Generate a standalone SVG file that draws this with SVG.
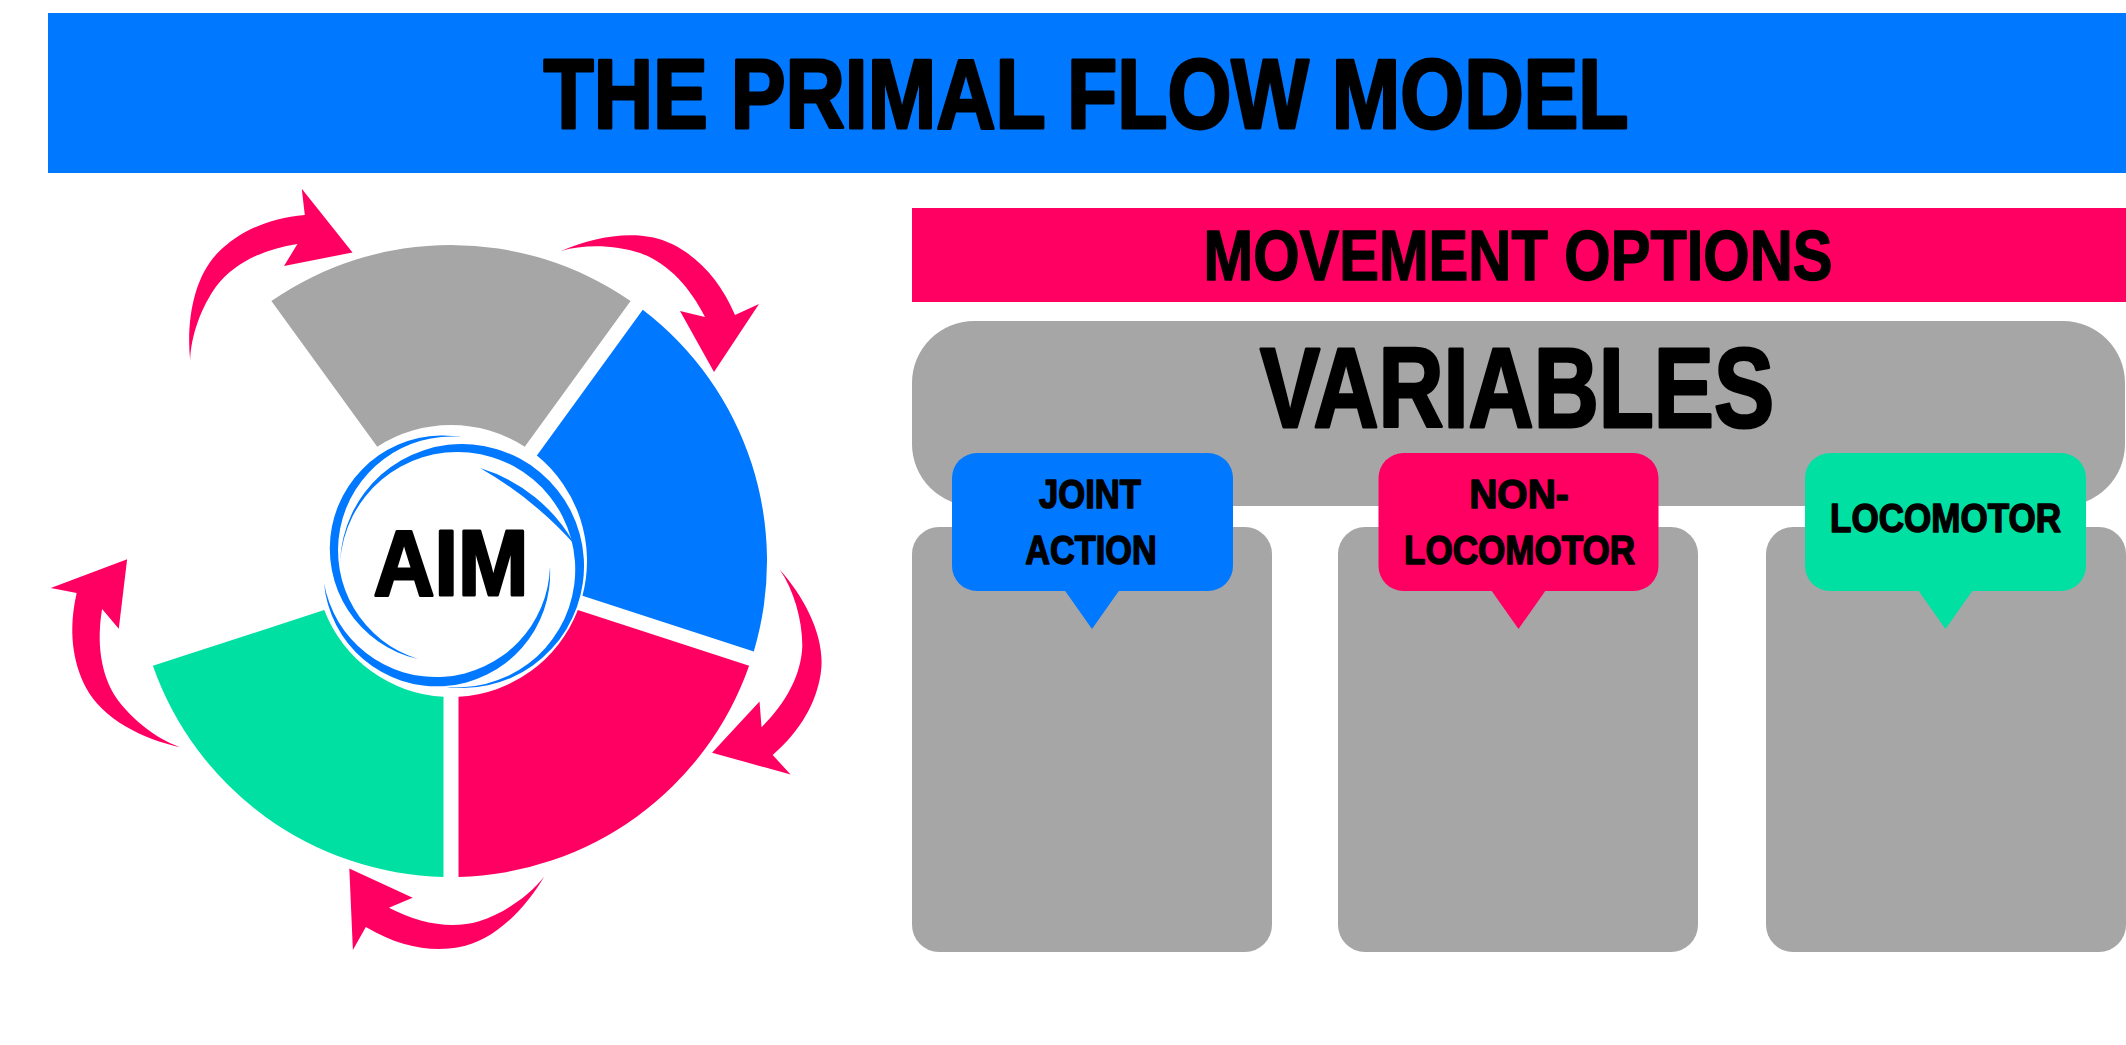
<svg xmlns="http://www.w3.org/2000/svg" width="2126" height="1045" viewBox="0 0 2126 1045">
<defs>
<style>
.t{font-family:"Liberation Sans",Arial,sans-serif;font-weight:bold;fill:#000;text-anchor:middle;stroke:#000;stroke-linejoin:round;stroke-width:1.5}
.big{stroke-width:3}
.blue{fill:#0078FF}
.pink{fill:#FF0062}
.green{fill:#00E0A2}
.gray{fill:#A6A6A6}
</style>
<path id="seg" d="M271.4,301 A316,316 0 0 1 630.6,301 L524.75,446.73 A136,136 0 0 0 377.25,446.73 Z"/>
<path id="arr" d="M561,251 C595,236 640,228 672,244 C698,257 720,280 735,315 L759,304 L714,372 L680,311 L705,317 C690,287 668,263 640,253 C615,245 585,244 561,251 Z"/>
</defs>
<rect width="2126" height="1045" fill="#fff"/>

<g id="title">
<rect x="48" y="13" width="2078" height="160" class="blue"/>
<text class="t big" x="1086" y="128" font-size="98" textLength="1085" lengthAdjust="spacingAndGlyphs">THE PRIMAL FLOW MODEL</text>
</g>

<g id="wheel">
<use href="#seg" class="gray"/>
<use href="#seg" class="blue" transform="rotate(72 451 561)"/>
<use href="#seg" class="pink" transform="rotate(144 451 561)"/>
<use href="#seg" class="green" transform="rotate(216 451 561)"/>
</g>

<g id="aim">
<g class="blue">
<path d="M462,437 A113.2,113.2 0 0 0 418,659 A113.8,113.8 0 0 1 462,437 Z"/>
<path d="M324,583 A113.3,113.3 0 0 0 550,567 A113.9,113.9 0 0 1 324,583 Z"/>
<path d="M438.7,685.8 A122,122 0 1 0 340.1,561.7 A117.7,117.7 0 1 1 438.7,685.8 Z"/>
<path d="M480,468 A162,162 0 0 1 575,545 A377,377 0 0 0 480,468 Z"/>
</g>
<text class="t big" x="451" y="595" font-size="93" textLength="155" lengthAdjust="spacingAndGlyphs">AIM</text>
</g>

<g id="connectors" class="pink">
<use href="#arr"/>
<use href="#arr" transform="rotate(72 451 561)"/>
<use href="#arr" transform="rotate(144 451 561)"/>
<use href="#arr" transform="rotate(216 451 561)"/>
<use href="#arr" transform="rotate(288 451 561)"/>
</g>

<g id="movement-options">
<rect x="912" y="208" width="1214" height="94" class="pink"/>
<text class="t" x="1518" y="280" font-size="70" stroke-width="2" textLength="629" lengthAdjust="spacingAndGlyphs">MOVEMENT OPTIONS</text>
</g>

<g id="variables">
<rect x="912" y="321" width="1213" height="185" rx="62" class="gray"/>
<text class="t big" x="1517" y="427" font-size="113" textLength="514" lengthAdjust="spacingAndGlyphs">VARIABLES</text>
</g>

<g id="card-joint-action">
<rect x="912" y="527" width="360" height="425" rx="27" class="gray"/>
<rect x="952" y="453" width="281" height="138" rx="25" class="blue"/>
<polygon points="1064.5,590 1119.5,590 1092,629" class="blue"/>
<text class="t" x="1090" y="508" font-size="40.5" textLength="102" lengthAdjust="spacingAndGlyphs">JOINT</text>
<text class="t" x="1091" y="564" font-size="40.5" textLength="131.5" lengthAdjust="spacingAndGlyphs">ACTION</text>
</g>

<g id="card-non-locomotor">
<rect x="1338" y="527" width="360" height="425" rx="27" class="gray"/>
<rect x="1378.5" y="453" width="280" height="138" rx="25" class="pink"/>
<polygon points="1491,590 1546,590 1518.5,629" class="pink"/>
<text class="t" x="1519" y="508" font-size="40.5" textLength="99.5" lengthAdjust="spacingAndGlyphs">NON-</text>
<text class="t" x="1519.5" y="564" font-size="40.5" textLength="231" lengthAdjust="spacingAndGlyphs">LOCOMOTOR</text>
</g>

<g id="card-locomotor">
<rect x="1766" y="527" width="360" height="425" rx="27" class="gray"/>
<rect x="1805" y="453" width="281" height="138" rx="25" class="green"/>
<polygon points="1918,590 1973,590 1945.5,629" class="green"/>
<text class="t" x="1945.5" y="532" font-size="40.5" textLength="231" lengthAdjust="spacingAndGlyphs">LOCOMOTOR</text>
</g>
</svg>
